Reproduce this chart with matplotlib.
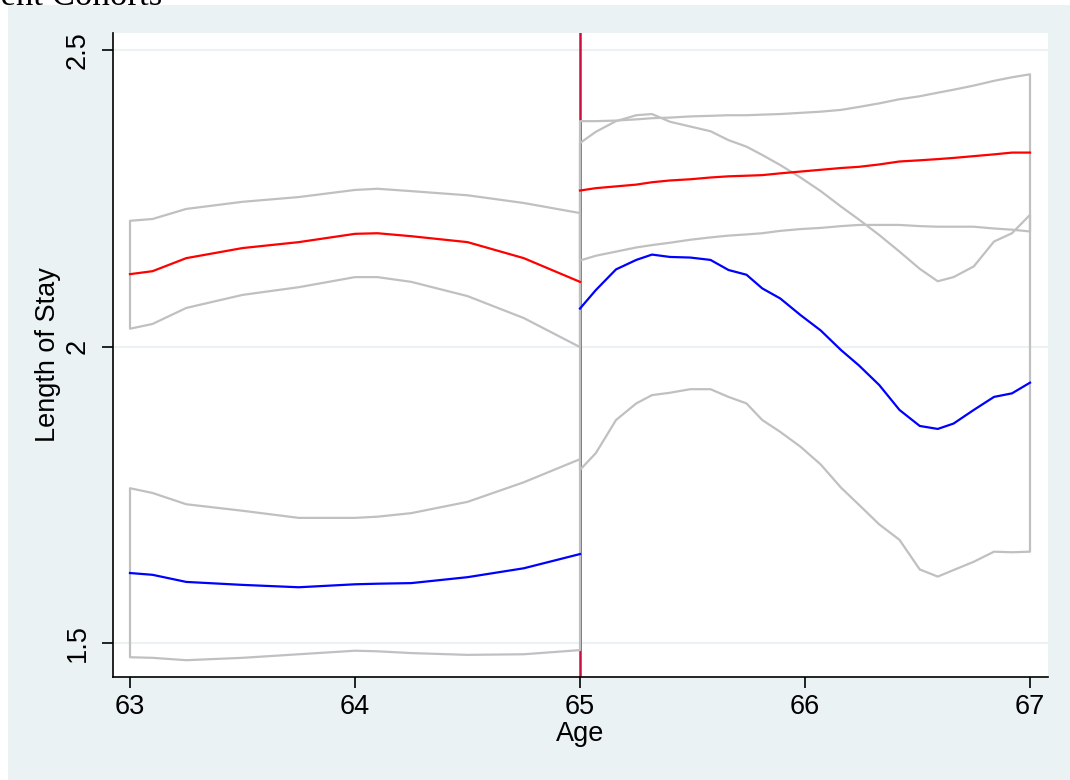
import matplotlib
matplotlib.use("Agg")
import matplotlib.pyplot as plt
from matplotlib.patches import Rectangle

plt.rcParams["font.family"] = ["Liberation Sans", "DejaVu Sans"]

# cohort before 65
age_pre = [63.0, 63.1, 63.25, 63.5, 63.75, 64.0, 64.1, 64.25, 64.5, 64.75, 65.0]
red_pre = [2.122, 2.127, 2.149, 2.166, 2.176, 2.190, 2.191, 2.186, 2.176, 2.149, 2.109]
red_pre_hi = [2.212, 2.215, 2.232, 2.244, 2.252, 2.264, 2.266, 2.262, 2.255, 2.242, 2.225]
red_pre_lo = [2.030, 2.038, 2.065, 2.087, 2.100, 2.117, 2.117, 2.109, 2.085, 2.048, 1.999]
blue_pre = [1.618, 1.615, 1.603, 1.598, 1.594, 1.599, 1.600, 1.601, 1.611, 1.626, 1.650]
blue_pre_hi = [1.761, 1.753, 1.734, 1.723, 1.711, 1.711, 1.713, 1.719, 1.738, 1.771, 1.810]
blue_pre_lo = [1.476, 1.475, 1.471, 1.475, 1.481, 1.487, 1.486, 1.483, 1.480, 1.481, 1.488]

# cohort after 65
age_post = [65.0, 65.07, 65.16, 65.25, 65.32, 65.4, 65.49, 65.58, 65.66, 65.74,
            65.81, 65.89, 65.98, 66.07, 66.16, 66.24, 66.33, 66.42, 66.51,
            66.59, 66.66, 66.75, 66.84, 66.92, 67.0]
red_post = [2.263, 2.267, 2.270, 2.273, 2.277, 2.280, 2.282, 2.285, 2.287, 2.288,
            2.289, 2.292, 2.295, 2.298, 2.301, 2.303, 2.307, 2.312, 2.314,
            2.316, 2.318, 2.321, 2.324, 2.327, 2.327]
red_post_hi = [2.380, 2.380, 2.381, 2.383, 2.385, 2.386, 2.388, 2.389, 2.390, 2.390,
               2.391, 2.392, 2.394, 2.396, 2.399, 2.404, 2.410, 2.417, 2.422,
               2.428, 2.433, 2.440, 2.448, 2.454, 2.459]
red_post_lo = [2.145, 2.153, 2.160, 2.167, 2.171, 2.175, 2.180, 2.184, 2.187, 2.189,
               2.191, 2.195, 2.198, 2.200, 2.203, 2.205, 2.205, 2.205, 2.203,
               2.202, 2.202, 2.202, 2.199, 2.197, 2.194]
blue_post = [2.064, 2.095, 2.130, 2.146, 2.155, 2.151, 2.150, 2.146, 2.129, 2.121,
             2.098, 2.081, 2.053, 2.027, 1.994, 1.968, 1.935, 1.893, 1.866,
             1.861, 1.870, 1.893, 1.915, 1.921, 1.939]
blue_post_hi = [2.343, 2.362, 2.380, 2.390, 2.392, 2.379, 2.371, 2.363, 2.348, 2.337,
                2.323, 2.306, 2.285, 2.262, 2.236, 2.214, 2.188, 2.160, 2.131,
                2.110, 2.117, 2.135, 2.177, 2.191, 2.222]
blue_post_lo = [1.792, 1.820, 1.876, 1.904, 1.918, 1.922, 1.928, 1.928, 1.915, 1.904,
                1.876, 1.856, 1.831, 1.801, 1.762, 1.733, 1.700, 1.674, 1.624,
                1.612, 1.623, 1.637, 1.654, 1.653, 1.654]

x_ticks = [63, 64, 65, 66, 67]
y_ticks = [1.5, 2.0, 2.5]
y_tick_labels = ["1.5", "2", "2.5"]

bg = "#EAF2F3"
band_gray = "#C0C0C0"

fig = plt.figure(figsize=(10.7, 7.8), dpi=100, facecolor="white")
fig.patches.append(Rectangle((8 / 1070, 0), 1, 1 - 5 / 780, transform=fig.transFigure,
                             facecolor=bg, edgecolor="none", zorder=-10))
fig.text(162 / 1070, 1 - 5 / 780, "Different Cohorts", ha="right", va="baseline",
         family=["Liberation Serif", "DejaVu Serif"], fontsize=25)

ax = fig.add_axes([113 / 1070, 103 / 780, 935 / 1070, 644 / 780])
ax.set_facecolor("white")

for yt in y_ticks:
    ax.axhline(yt, color=bg, lw=1.5, zorder=0)

ax.axvline(65, color="#CC1040", lw=1.8, zorder=1)

for x, lo, hi in [(age_pre, red_pre_lo, red_pre_hi), (age_pre, blue_pre_lo, blue_pre_hi),
                  (age_post, red_post_lo, red_post_hi), (age_post, blue_post_lo, blue_post_hi)]:
    ax.fill_between(x, lo, hi, facecolor="none", edgecolor=band_gray, lw=1.6, zorder=2)

ax.plot(age_pre, red_pre, color="#FF0000", lw=1.6, zorder=3)
ax.plot(age_pre, blue_pre, color="#0000FF", lw=1.6, zorder=3)
ax.plot(age_post, red_post, color="#FF0000", lw=1.6, zorder=3)
ax.plot(age_post, blue_post, color="#0000FF", lw=1.6, zorder=3)

ax.set_xlim(63 - 17 / 225, 67 + 18 / 225)
ax.set_ylim(1.5 - 34 / 593, 2.5 + 17 / 593)

ax.set_xticks(x_ticks)
ax.set_yticks(y_ticks)
ax.set_yticklabels(y_tick_labels, rotation=90, va="center")
ax.tick_params(axis="both", direction="out", length=8, width=1.2, labelsize=19.5)
ax.tick_params(axis="x", pad=4)
ax.tick_params(axis="y", pad=8)

for side in ["top", "right"]:
    ax.spines[side].set_visible(False)
for side in ["left", "bottom"]:
    ax.spines[side].set_linewidth(1.2)

ax.set_xlabel("Age", fontsize=19.5, labelpad=1)
ax.set_ylabel("Length of Stay", fontsize=19.5, labelpad=3)

fig.savefig("out.png", dpi=100, facecolor=fig.get_facecolor())
